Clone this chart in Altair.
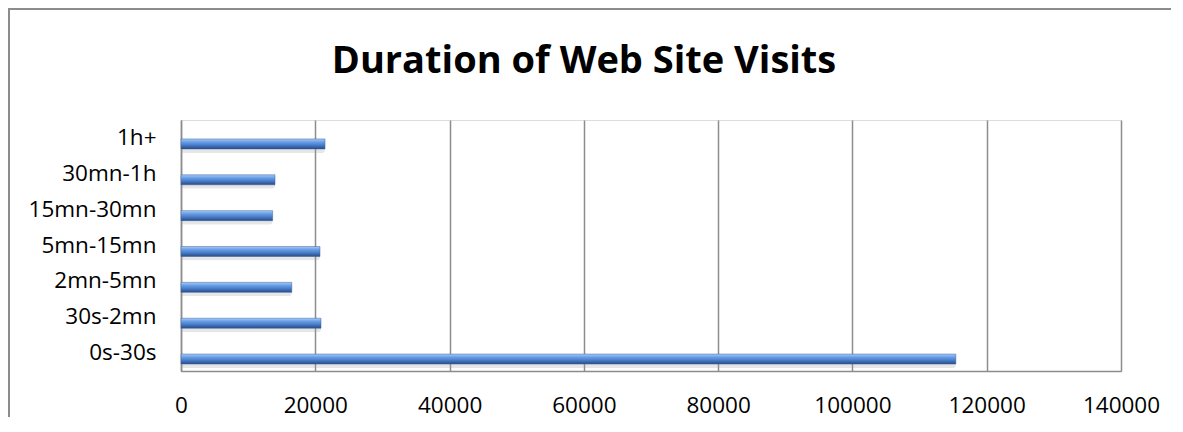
import altair as alt
import pandas as pd

categories = ["1h+", "30mn-1h", "15mn-30mn", "5mn-15mn", "2mn-5mn", "30s-2mn", "0s-30s"]
visits = [21450, 14000, 13650, 20700, 16500, 20850, 115400]
x_ticks = [0, 20000, 40000, 60000, 80000, 100000, 120000, 140000]
title_text = "Duration of Web Site Visits"

df = pd.DataFrame({"duration": categories, "visits": visits})

FONT = "Open Sans"

xenc = alt.X("visits:Q", scale=alt.Scale(domain=[0, 140000], nice=False),
             axis=alt.Axis(values=x_ticks, format="d", title=None, grid=True,
                           gridColor="#8c8c8c", gridWidth=1.5, domainColor="#8c8c8c",
                           domainWidth=1.5, ticks=False, labelFontSize=22.5,
                           labelFont=FONT, labelColor="#000000", labelPadding=23,
                           labelFlush=False, labelOverlap=False))
yenc = alt.Y("duration:N", sort=categories,
             scale=alt.Scale(paddingInner=0, paddingOuter=0),
             axis=alt.Axis(title=None, ticks=False, domainColor="#8c8c8c", domainWidth=1.5,
                           labelFontSize=22.5, labelFont=FONT, labelColor="#000000",
                           labelPadding=25))

gradient = {
    "gradient": "linear", "x1": 0, "x2": 0, "y1": 0, "y2": 1,
    "stops": [
        {"offset": 0.0, "color": "#a9cbf7"},
        {"offset": 0.3, "color": "#6a9fe6"},
        {"offset": 0.6, "color": "#4a7fcc"},
        {"offset": 1.0, "color": "#284a84"},
    ],
}

shadow = alt.Chart(df).mark_bar(size=10, yOffset=10, color="#9a9a9a", opacity=0.25,
                                cornerRadius=3).encode(x=xenc, y=yenc)
bars = alt.Chart(df).mark_bar(size=10, yOffset=6, color=gradient,
                              stroke="#3a62a3", strokeWidth=0.5).encode(x=xenc, y=yenc)

one = pd.DataFrame({"a": [0]})
border_top = alt.Chart(one).mark_rect(color="#8c8c8c", clip=False).encode(
    x=alt.value(-173), x2=alt.value(990), y=alt.value(-112), y2=alt.value(-110))
border_left = alt.Chart(one).mark_rect(color="#8c8c8c", clip=False).encode(
    x=alt.value(-173), x2=alt.value(-171), y=alt.value(-112), y2=alt.value(297))

title = alt.Chart(pd.DataFrame({"t": [title_text]})).mark_text(
    font=FONT, fontSize=38, fontWeight="bold", color="#000000",
    align="center", baseline="alphabetic", clip=False
).encode(text="t:N", x=alt.value(403), y=alt.value(-47))

chart = alt.layer(border_top, border_left, shadow, bars, title).properties(
    width=940, height=251,
    padding={"left": 173, "top": 112, "right": 50, "bottom": 47},
    autosize=alt.AutoSizeParams(type="none"),
).configure_view(stroke=None).configure(background="#ffffff")

chart.save("out.html", embed_options={"renderer": "svg", "actions": False})
